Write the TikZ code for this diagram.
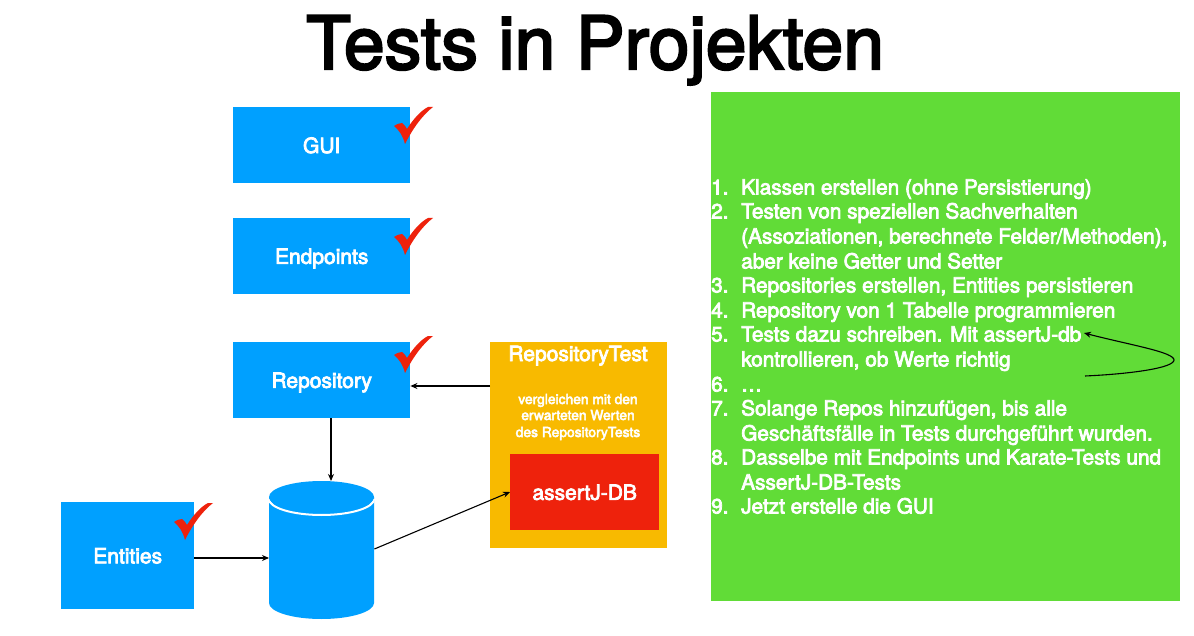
\documentclass[tikz,border=0pt]{standalone}
\usepackage{fontspec}
\setmainfont{TeX Gyre Heros}
\newfontfamily\medfont[FakeBold=3.6]{TeX Gyre Heros}
\newfontfamily\titlefont[FakeBold=3]{TeX Gyre Heros}
\usetikzlibrary{arrows.meta,calc}
\definecolor{bluebox}{RGB}{0,160,255}
\definecolor{greenbox}{RGB}{97,220,55}
\definecolor{orangebox}{RGB}{248,186,0}
\definecolor{redbox}{RGB}{238,34,12}
\tikzset{
 x=1pt,y=-1pt,
 box/.style={fill=bluebox,inner sep=0pt,text=white,text depth=0pt,font=\fontsize{21}{24}\medfont},
 conn/.style={draw=black,line width=1.1pt,-{Stealth[length=7pt,width=6pt]}},
 item/.style={anchor=base west,inner sep=0pt,text=white,font=\fontsize{20.8}{24}\medfont},
 small/.style={anchor=base,inner sep=0pt,text=white,font=\fontsize{13.8}{15}\medfont},
 check/.pic={\fill[redbox] (0,0) .. controls (3,-2) and (6,-3) .. (8,-3) .. controls (10,-2) and (12,1) .. (13,3)
   .. controls (18,-5) and (26,-15) .. (34,-19) -- (39,-19) .. controls (30,-12) and (20,0) .. (11,18) .. controls (9,10) and (5,4) .. (0,0) -- cycle;}
}
\newcommand{\boxat}[6]{\node[#6,minimum width=#3pt,minimum height=#4pt,anchor=north west] (#1) at (#2) {#5};}
\begin{document}
\begin{tikzpicture}
\useasboundingbox (0,0) rectangle (1194,636);
\fill[white] (0,0) rectangle (1194,636);
\node[inner sep=0pt,anchor=base,font=\fontsize{73.3}{80}\titlefont] (title) at (595,69) {Tests in Projekten};
\boxat{gui}{233,107}{177}{76}{GUI}{box}
\boxat{endpoints}{233,218}{177}{76}{Endpoints}{box}
\boxat{repo}{233,342}{177}{76}{Repository}{box}
\boxat{entities}{61,502}{133}{107}{Entities}{box}
\node[fill=orangebox,minimum width=177pt,minimum height=206pt,anchor=north west,inner sep=0pt] (test) at (490,342) {};
\node[anchor=base,inner sep=0pt,text=white,font=\fontsize{21}{24}\medfont] (testtitle) at (578,361) {RepositoryTest};
\node[small] (s1) at (578,404) {vergleichen mit den};
\node[small] (s2) at (578,420) {erwarteten Werten};
\node[small] (s3) at (578,437) {des RepositoryTests};
\node[fill=redbox,minimum width=149pt,minimum height=76pt,anchor=north west,inner sep=0pt,text=white,text depth=0pt,font=\fontsize{21}{24}\medfont] (assert) at (510,454) {assertJ-DB};
% database
\fill[bluebox] (269,497) -- (269,603) arc[start angle=180,end angle=360,x radius=52.5,y radius=-16] -- (374,497) -- cycle;
\draw[white,line width=2pt] (269,499) arc[start angle=180,end angle=360,x radius=52.5,y radius=-16];
\fill[bluebox] (321.5,497) ellipse[x radius=52.5,y radius=16];
\node[inner sep=0pt,minimum width=105pt,minimum height=138pt,anchor=north west] (db) at (269,481) {};
% checks
\pic at (394,126) {check};
\pic at (394,237) {check};
\pic at (394,355) {check};
\pic at (174,522) {check};
% connectors
\draw[conn] (repo.south -| 331,0) -- (db.north -| 331,0);
\draw[conn] (test.west |- 0,386) -- (repo.east |- 0,386);
\draw[conn] (entities.east |- 0,558) -- (db.west |- 0,558);
\draw[conn] (db.east |- 0,549) -- (assert.west |- 0,492);
% green panel
\node[fill=greenbox,minimum width=469pt,minimum height=509pt,anchor=north west,inner sep=0pt] (panel) at (711,92) {};
\foreach \n/\y in {1/194,2/218,3/292,4/317,5/341,6/391,7/415,8/464,9/513}
  \node[item] (n\n) at (711,\y+0.5) {\n.};
\node[item] (l1) at (741,194.5) {Klassen erstellen (ohne Persistierung)};
\node[item] (l2) at (741,218.5) {Testen von speziellen Sachverhalten};
\node[item] (l2b) at (741,243.5) {(Assoziationen, berechnete Felder/Methoden),};
\node[item] (l2c) at (741,268.5) {aber keine Getter und Setter};
\node[item] (l3) at (741,292.5) {Repositories erstellen, Entities persistieren};
\node[item] (l4) at (741,317.5) {Repository von 1 Tabelle programmieren};
\node[item] (l5) at (741,341.5) {Tests dazu schreiben. Mit assertJ-db};
\node[item] (l5b) at (741,366.5) {kontrollieren, ob Werte richtig};
\node[item] (l6) at (741,391.5) {…};
\node[item] (l7) at (741,415.5) {Solange Repos hinzufügen, bis alle};
\node[item] (l7b) at (741,440.5) {Geschäftsfälle in Tests durchgeführt wurden.};
\node[item] (l8) at (741,464.5) {Dasselbe mit Endpoints und Karate-Tests und};
\node[item] (l8b) at (741,489.5) {AssertJ-DB-Tests};
\node[item] (l9) at (741,513.5) {Jetzt erstelle die GUI};
\coordinate (loopstart) at (1085,376);
\coordinate (looptip) at (1084,333);
\draw[conn] (loopstart) .. controls (1130,374) and (1174,368) .. (1174,360) .. controls (1174,352) and (1130,345) .. (looptip);
\end{tikzpicture}
\end{document}
